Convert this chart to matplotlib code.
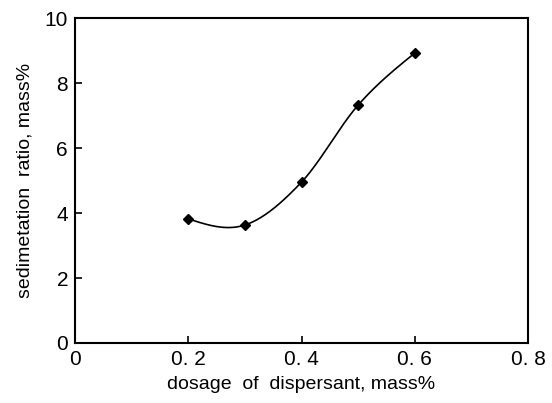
import matplotlib
matplotlib.use("Agg")
import matplotlib.pyplot as plt
import numpy as np

dosage = [0.2, 0.3, 0.4, 0.5, 0.6]
ratio = [3.82, 3.63, 4.95, 7.32, 8.92]
xticks = [0, 0.2, 0.4, 0.6, 0.8]
xticklabels = ["0", "0. 2", "0. 4", "0. 6", "0. 8"]
yticks = [0, 2, 4, 6, 8, 10]


def smooth_line(x, y, n=60):
    # catmull-rom style smoothing with free (natural) ends, only for drawing
    x = np.asarray(x, float)
    y = np.asarray(y, float)
    k = len(x)
    m = np.zeros(k)
    for i in range(1, k - 1):
        m[i] = (y[i + 1] - y[i - 1]) / (x[i + 1] - x[i - 1])
    s0 = (y[1] - y[0]) / (x[1] - x[0])
    s1 = (y[-1] - y[-2]) / (x[-1] - x[-2])
    m[0] = (3 * s0 - m[1]) / 2
    m[-1] = (3 * s1 - m[-2]) / 2
    xs_all, ys_all = [], []
    for i in range(k - 1):
        h = x[i + 1] - x[i]
        t = np.linspace(0, 1, n)
        h00 = 2 * t**3 - 3 * t**2 + 1
        h10 = t**3 - 2 * t**2 + t
        h01 = -2 * t**3 + 3 * t**2
        h11 = t**3 - t**2
        xs_all.append(x[i] + t * h)
        ys_all.append(h00 * y[i] + h10 * h * m[i] + h01 * y[i + 1] + h11 * h * m[i + 1])
    return np.concatenate(xs_all), np.concatenate(ys_all)


plt.rcParams['font.family'] = ['Liberation Sans', 'DejaVu Sans']

fig = plt.figure(figsize=(5.52, 4.03), dpi=100)
ax = fig.add_axes([75 / 552, 1 - 343 / 403, 453 / 552, 325 / 403])

sx, sy = smooth_line(dosage, ratio)
ax.plot(sx, sy, color='black', linewidth=1.2)
ax.plot(dosage, ratio, linestyle='none', marker='D', color='black', markersize=5)

ax.set_xlim(0, 0.8)
ax.set_ylim(0, 10)
ax.set_xticks(xticks)
ax.set_xticklabels(xticklabels)
ax.set_yticks(yticks)
ax.tick_params(direction='in', length=5, width=1.2, labelsize=15, pad=5)
for s in ax.spines.values():
    s.set_linewidth(1.5)

ax.set_xlabel("dosage  of  dispersant, mass%", fontsize=14, labelpad=5)
ax.set_ylabel("sedimetation  ratio, mass%", fontsize=14, labelpad=8)

fig.savefig("out.png", dpi=100)
